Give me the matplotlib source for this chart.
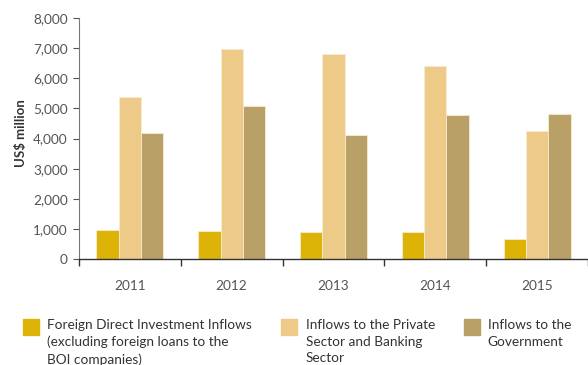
import matplotlib
matplotlib.use("Agg")
import matplotlib.pyplot as plt
from matplotlib.patches import Rectangle
import numpy as np

years = ["2011", "2012", "2013", "2014", "2015"]
fdi = [955, 930, 920, 890, 665]
private_banking = [5395, 6965, 6790, 6400, 4265]
government = [4180, 5085, 4110, 4785, 4815]

series_labels = [
    "Foreign Direct Investment Inflows\n(excluding foreign loans to the\nBOI companies)",
    "Inflows to the Private\nSector and Banking\nSector",
    "Inflows to the\nGovernment",
]
colors = ["#DDB308", "#EDCA87", "#B8A066"]
text_color = "#555555"

W, H = 588, 365
fig = plt.figure(figsize=(W / 100, H / 100), dpi=100)
plt.rcParams["font.family"] = ["Lato", "DejaVu Sans"]

ax = fig.add_axes([79 / W, 1 - 259.3 / H, (W - 79) / W, (259.3 - 18) / H])

x = np.arange(len(years))
bw = 0.22
for i, vals in enumerate([fdi, private_banking, government]):
    ax.bar(x + (i - 1) * bw, vals, width=bw, color=colors[i],
           edgecolor="#F7EBD0", linewidth=0.6, zorder=2)

ax.set_xlim(-0.5, len(years) - 0.5)
ax.set_ylim(0, 8000)
ax.set_yticks(range(0, 8001, 1000))
ax.set_yticklabels([f"{v:,}" for v in range(0, 8001, 1000)])
ax.set_xticks(x)
ax.set_xticklabels(years)
ax.set_xticks(np.arange(-0.5, len(years), 1), minor=True)
ax.tick_params(axis="x", which="major", length=0, pad=15, labelsize=9.8, labelcolor=text_color)
ax.tick_params(axis="x", which="minor", length=5, width=1, color="#333333", direction="out")
ax.tick_params(axis="y", length=4, width=0.8, color="#555555", pad=4, labelsize=9.8, labelcolor=text_color)

for s in ["top", "right"]:
    ax.spines[s].set_visible(False)
ax.spines["left"].set_color("#777777")
ax.spines["left"].set_linewidth(0.8)
ax.spines["bottom"].set_color("#333333")
ax.spines["bottom"].set_linewidth(1.0)

fig.text(21 / W, 1 - 133.5 / H, "US$ million", rotation=90, ha="center", va="center",
         fontsize=9.5, fontweight="bold", color="#333333")

# legend below the plot
sq_x = [23.3, 281.0, 464.0]
tx_x = [47.3, 305.7, 487.7]
for i in range(3):
    fig.patches.append(Rectangle((sq_x[i] / W, 1 - 335 / H), 16 / W, 16 / H,
                                 transform=fig.transFigure, color=colors[i]))
    fig.text(tx_x[i] / W, 1 - 319.0 / H, series_labels[i], ha="left", va="top",
             fontsize=9.8, color="#333333", linespacing=1.45)

fig.savefig("out.png", dpi=100)
